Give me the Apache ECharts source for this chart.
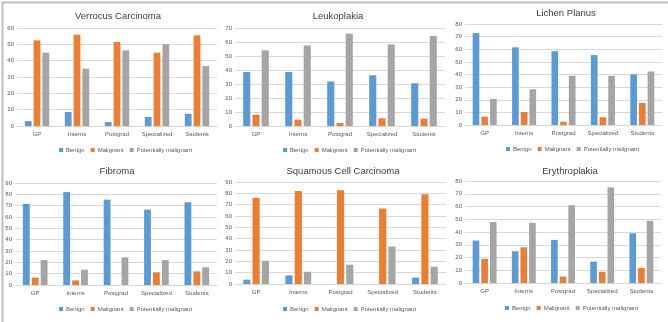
<!DOCTYPE html>
<html>
<head>
<meta charset="utf-8">
<script src="https://cdn.jsdelivr.net/npm/echarts@6/dist/echarts.min.js"></script>
<style>
  html, body { margin: 0; padding: 0; background: #fff; }
  #chart { width: 668px; height: 322px; }
</style>
</head>
<body>
<div id="chart"></div>
<script>
// categories and series
var categories = ['GP', 'Interns', 'Postgrad', 'Specialized', 'Students'];
var seriesNames = ['Benign', 'Malignant', 'Potentially malignant'];
var panelTitles = ['Verrocus Carcinoma', 'Leukoplakia', 'Lichen Planus', 'Fibroma', 'Squamous Cell Carcinoma', 'Erythroplakia'];
var yMax = [60, 70, 80, 90, 90, 80];

// values
var verrocusBenign = [3, 8.6, 2.4, 5.5, 7.5];
var verrocusMalignant = [52.4, 55.9, 51.4, 44.9, 55.5];
var verrocusPotential = [44.9, 35.1, 46.3, 50, 36.7];

var leukoBenign = [38.6, 38.6, 31.8, 36.2, 30.5];
var leukoMalignant = [8, 4.5, 2.2, 5.5, 5.2];
var leukoPotential = [54, 57.5, 66, 58.3, 64.3];

var lichenBenign = [72.8, 61.5, 58.5, 55.4, 40];
var lichenMalignant = [6.6, 10.3, 2.6, 6.1, 17.5];
var lichenPotential = [20.7, 28.3, 38.9, 38.9, 42.4];

var fibromaBenign = [71.5, 82, 75.3, 66.5, 73];
var fibromaMalignant = [6.5, 4.1, 0, 11.2, 12];
var fibromaPotential = [22, 13.5, 24.4, 22, 15.6];

var squamousBenign = [3.8, 7.6, 0, 0, 5.6];
var squamousMalignant = [76, 82, 82.7, 66.6, 79.2];
var squamousPotential = [20.5, 10.8, 17, 33.1, 15.2];

var erythroBenign = [33.3, 24.9, 33.8, 16.8, 39];
var erythroMalignant = [18.9, 28, 5, 8.7, 11.8];
var erythroPotential = [47.8, 47.2, 61, 75, 48.8];

var panelData = [
  [verrocusBenign, verrocusMalignant, verrocusPotential],
  [leukoBenign, leukoMalignant, leukoPotential],
  [lichenBenign, lichenMalignant, lichenPotential],
  [fibromaBenign, fibromaMalignant, fibromaPotential],
  [squamousBenign, squamousMalignant, squamousPotential],
  [erythroBenign, erythroMalignant, erythroPotential]
];

var colors = ['#5B9BD5', '#ED7D31', '#A5A5A5'];
var font = "'Liberation Sans Narrow', 'Liberation Sans', sans-serif";

// grid boxes: left, top, width, height
var boxes = [
  [17, 28, 200, 98],
  [235, 28, 210, 98],
  [465, 24, 197, 101],
  [15, 183, 202, 102],
  [235, 182, 211, 102],
  [465, 181, 196, 102]
];
var titlePos = [[113, 6], [333, 6], [561, 3], [112, 161], [338, 161], [565, 161]];
var legendPos = [[115, 147], [339, 147], [562, 146], [115, 306], [339, 306], [561, 305]];

var myChart = echarts.init(document.getElementById('chart'));

var grid = [], xAxis = [], yAxis = [], title = [], legend = [], series = [];
for (var i = 0; i < 6; i++) {
  var b = boxes[i];
  grid.push({ left: b[0], top: b[1], width: b[2], height: b[3], containLabel: false });
  xAxis.push({
    type: 'category', gridIndex: i, data: categories,
    axisLine: { lineStyle: { color: '#D9D9D9' } },
    axisTick: { show: false },
    axisLabel: { color: '#595959', fontSize: 6, fontFamily: font, margin: 5, interval: 0 }
  });
  yAxis.push({
    type: 'value', gridIndex: i, min: 0, max: yMax[i], interval: 10,
    axisLine: { show: false }, axisTick: { show: false },
    splitLine: { lineStyle: { color: '#D9D9D9', width: 1 } },
    axisLabel: { color: '#595959', fontSize: 6, fontFamily: font, margin: 3 }
  });
  title.push({
    text: panelTitles[i], left: titlePos[i][0], top: titlePos[i][1], textAlign: 'center',
    textStyle: { color: '#404040', fontSize: 9.5, fontWeight: 'normal', fontFamily: font }
  });
  legend.push({
    data: seriesNames, left: legendPos[i][0] - 56, top: legendPos[i][1],
    itemWidth: 4, itemHeight: 4, itemGap: 6, icon: 'rect', padding: 0,
    textStyle: { color: '#595959', fontSize: 6, fontFamily: font, padding: [0, 0, 0, -2] }
  });
  for (var s = 0; s < 3; s++) {
    series.push({
      name: seriesNames[s], type: 'bar', xAxisIndex: i, yAxisIndex: i,
      data: panelData[i][s], itemStyle: { color: colors[s] },
      barCategoryGap: '39%', barGap: '30%', animation: false
    });
  }
}

var option = {
  backgroundColor: '#fff',
  animation: false,
  title: title,
  legend: legend,
  grid: grid,
  xAxis: xAxis,
  yAxis: yAxis,
  series: series,
  graphic: [{
    type: 'rect', left: 0, top: 0,
    shape: { width: 667, height: 321 },
    style: { fill: 'none', stroke: '#BFBFBF', lineWidth: 2 }
  }]
};
myChart.setOption(option);
</script>
</body>
</html>
